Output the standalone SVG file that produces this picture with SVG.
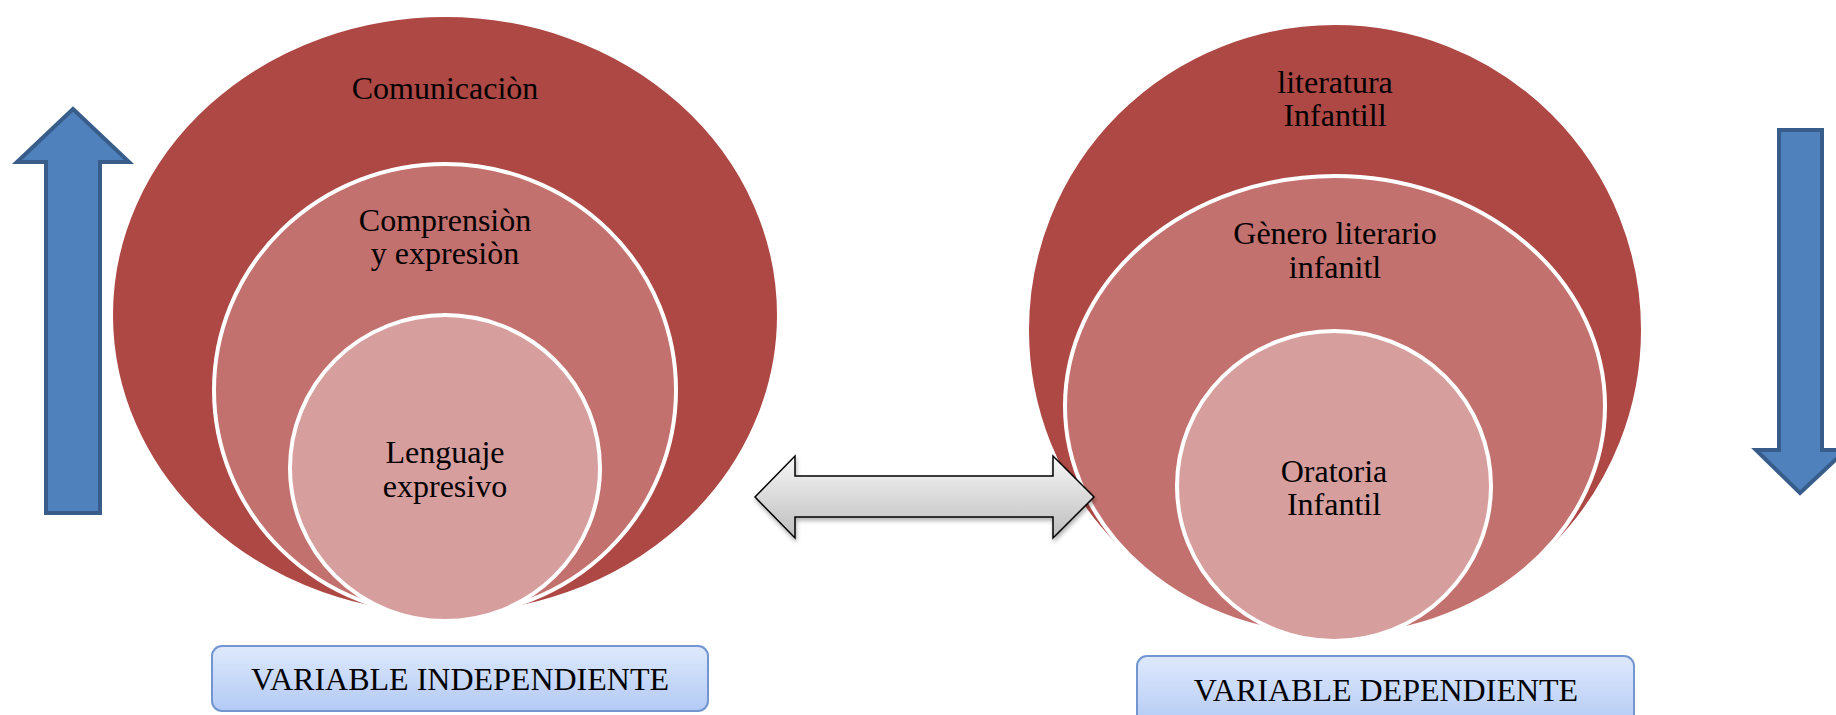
<svg xmlns="http://www.w3.org/2000/svg" width="1836" height="715" viewBox="0 0 1836 715">
<style>
.t{font-family:"Liberation Serif","Times New Roman",serif;font-size:32px;fill:#000;text-anchor:middle}
.c1{fill:#AE4845;stroke:#fff;stroke-width:4}
.c2{fill:#C3716E;stroke:#fff;stroke-width:4}
.c3{fill:#D69F9E;stroke:#fff;stroke-width:4}
.blue{fill:#4F81BD;stroke:#385D8A;stroke-width:4;stroke-linejoin:miter}
.box{fill:url(#gb);stroke:#7396D0;stroke-width:2}
</style>
<defs>
<linearGradient id="gb" x1="0" y1="0" x2="0" y2="1">
<stop offset="0" stop-color="#DEE9FD"/>
<stop offset="1" stop-color="#B3CAF4"/>
</linearGradient>
<linearGradient id="gg" x1="0" y1="0" x2="0" y2="1">
<stop offset="0" stop-color="#F7F7F7"/>
<stop offset="0.5" stop-color="#DADADA"/>
<stop offset="1" stop-color="#BDBDBD"/>
</linearGradient>
<filter id="sh" x="-10%" y="-30%" width="120%" height="160%">
<feDropShadow dx="1" dy="3" stdDeviation="2" flood-color="#000" flood-opacity="0.3"/>
</filter>
</defs>
<rect width="1836" height="715" fill="#fff"/>
<g id="left-target">
<g id="comunicacion">
<ellipse class="c1" cx="445" cy="315" rx="334" ry="300"/>
<text class="t" x="445" y="99">Comunicaciòn</text>
</g>
<g id="comprension">
<ellipse class="c2" cx="445" cy="390" rx="231" ry="226"/>
<text class="t" x="445" y="231">Comprensiòn</text>
<text class="t" x="445" y="264">y expresiòn</text>
</g>
<g id="lenguaje">
<ellipse class="c3" cx="445" cy="468" rx="155" ry="153"/>
<text class="t" x="445" y="463">Lenguaje</text>
<text class="t" x="445" y="497">expresivo</text>
</g>
</g>
<g id="right-target">
<g id="literatura">
<ellipse class="c1" cx="1335" cy="330" rx="308" ry="307"/>
<text class="t" x="1335" y="93">literatura</text>
<text class="t" x="1335" y="126">Infantill</text>
</g>
<g id="genero">
<ellipse class="c2" cx="1335" cy="406" rx="270" ry="230"/>
<text class="t" x="1335" y="244">Gènero literario</text>
<text class="t" x="1335" y="278">infanitl</text>
</g>
<g id="oratoria">
<ellipse class="c3" cx="1334" cy="486" rx="157" ry="155"/>
<text class="t" x="1334" y="482">Oratoria</text>
<text class="t" x="1334" y="515">Infantil</text>
</g>
</g>
<g id="var-independiente">
<rect class="box" x="212" y="646" width="496" height="65" rx="10"/>
<text class="t" x="460" y="690">VARIABLE INDEPENDIENTE</text>
</g>
<g id="var-dependiente">
<rect class="box" x="1137" y="656" width="497" height="70" rx="10"/>
<text class="t" x="1386" y="701">VARIABLE DEPENDIENTE</text>
</g>
<g id="connectors">
<path id="up-arrow" class="blue" d="M73,109 L129,162 L100,162 L100,513 L46,513 L46,162 L17,162 Z"/>
<path id="down-arrow" class="blue" d="M1779,130 L1822,130 L1822,450 L1846,450 L1800,493 L1756,450 L1779,450 Z"/>
<path id="double-arrow" d="M755,497 L795,456 L795,476 L1053,476 L1053,456 L1094,497 L1053,538 L1053,517 L795,517 L795,538 Z" fill="url(#gg)" stroke="#000" stroke-width="1.5" filter="url(#sh)"/>
</g>
</svg>
